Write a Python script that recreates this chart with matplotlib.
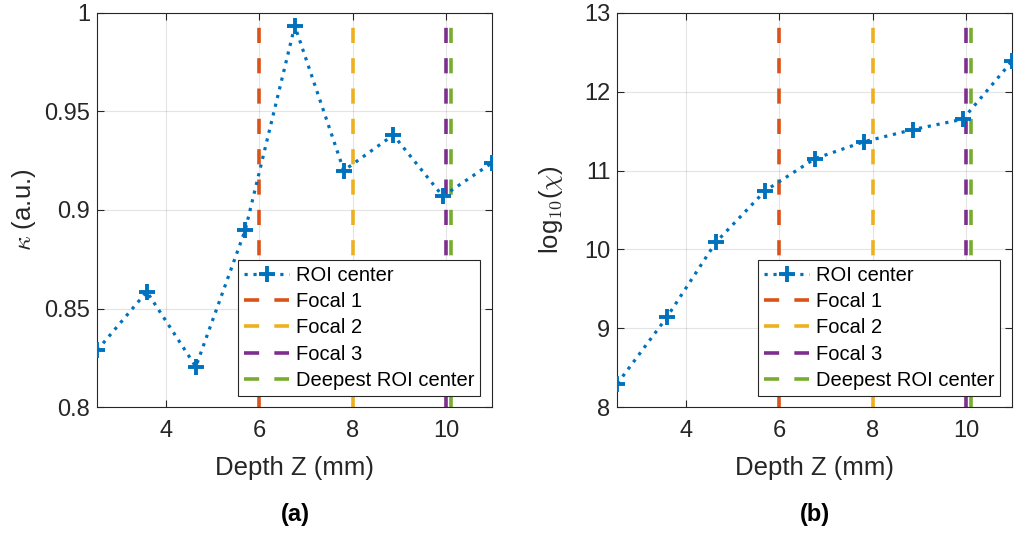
import matplotlib
matplotlib.use("Agg")
import matplotlib.pyplot as plt
from matplotlib.lines import Line2D

plt.rcParams['font.family'] = ['Liberation Sans', 'DejaVu Sans']

# Data
depth = [2.53, 3.59, 4.64, 5.70, 6.76, 7.81, 8.87, 9.93, 10.99]
kappa = [0.829, 0.8586, 0.8206, 0.890, 0.9933, 0.920, 0.938, 0.907, 0.924]
log_chi = [8.30, 9.14, 10.09, 10.745, 11.15, 11.365, 11.52, 11.65, 12.39]
focal_lines = [6.0, 8.0, 10.0, 10.1]
line_labels = ['Focal 1', 'Focal 2', 'Focal 3', 'Deepest ROI center']
line_colors = ['#D95319', '#EDB120', '#7E2F8E', '#77AC30']
xticks = [4, 6, 8, 10]
kappa_ticks = [0.8, 0.85, 0.9, 0.95, 1.0]
kappa_ticklabels = ['0.8', '0.85', '0.9', '0.95', '1']
chi_ticks = [8, 9, 10, 11, 12, 13]
blue = '#0072BD'
axcol = '#262626'

fig = plt.figure(figsize=(10.16, 5.33), dpi=100)
axL = fig.add_axes([97.3/1016, 1-407.3/533, 395/1016, 394.6/533])
axR = fig.add_axes([617.3/1016, 1-407.3/533, 395/1016, 394.6/533])

def style(ax, ydata, yticks, yticklabels, ylim):
    ax.plot(depth, ydata, color=blue, lw=2.3, dashes=(1, 1.8), marker='+',
            markersize=12, markeredgewidth=2.8, label='ROI center', zorder=3)
    for xv, lab, c in zip(focal_lines, line_labels, line_colors):
        ax.axvline(xv, color=c, lw=2.6, dashes=(4.2, 4.2), label=lab, zorder=2)
    ax.set_xlim(depth[0], depth[-1])
    ax.set_ylim(*ylim)
    ax.set_xticks(xticks)
    ax.set_yticks(yticks)
    ax.set_yticklabels(yticklabels)
    ax.grid(True, color='#262626', alpha=0.12, lw=0.8)
    ax.set_axisbelow(True)
    ax.tick_params(direction='in', length=5, width=0.8, top=True, right=True,
                   labelsize=17, colors=axcol)
    ax.tick_params(axis='y', pad=5)
    ax.tick_params(axis='x', pad=9)
    for s in ax.spines.values():
        s.set_color(axcol)
        s.set_linewidth(0.8)
    handles = [Line2D([], [], color=blue, lw=2.3, dashes=(1, 1.8), marker='+',
                      markersize=12, markeredgewidth=2.8)]
    for c in line_colors:
        handles.append(Line2D([], [], color=c, lw=2.6, dashes=(4.2, 4.2)))
    leg = ax.legend(handles, ['ROI center'] + line_labels, loc='lower right',
                    bbox_to_anchor=(0.969, 0.029), borderaxespad=0,
                    fontsize=14.5, fancybox=False, framealpha=1,
                    edgecolor=axcol, handlelength=2.24, handletextpad=0.3,
                    labelspacing=0.36, borderpad=0.3)
    leg.get_frame().set_linewidth(0.8)
    for t in leg.get_texts():
        t.set_color('black')

style(axL, kappa, kappa_ticks, kappa_ticklabels, (0.8, 1.0))
style(axR, log_chi, chi_ticks, [str(v) for v in chi_ticks], (8, 13))

# Axis labels
for ax in (axL, axR):
    ax.set_xlabel('Depth Z (mm)', fontsize=18.5, color=axcol)
    ax.xaxis.set_label_coords(0.5, -(468-407.3)/394.6, transform=ax.transAxes)
    ax.xaxis.label.set_va('center')

axL.set_ylabel(r'$\kappa$ (a.u.)', fontsize=18.5, color=axcol, math_fontfamily='cm')
axL.yaxis.set_label_coords(-(97.3-24)/395, 0.5)
axL.yaxis.label.set_va('center')
axR.set_ylabel(r'log$_{\mathsf{10}}$($\chi$)', fontsize=18.5, color=axcol, math_fontfamily='cm')
axR.yaxis.set_label_coords(-(617.3-551)/395, 0.5)
axR.yaxis.label.set_va('center')

fig.text(295/1016, 1-515/533, '(a)', fontsize=17, fontweight='bold', ha='center', va='center')
fig.text(815/1016, 1-515/533, '(b)', fontsize=17, fontweight='bold', ha='center', va='center')

fig.savefig('out.png', dpi=100)
